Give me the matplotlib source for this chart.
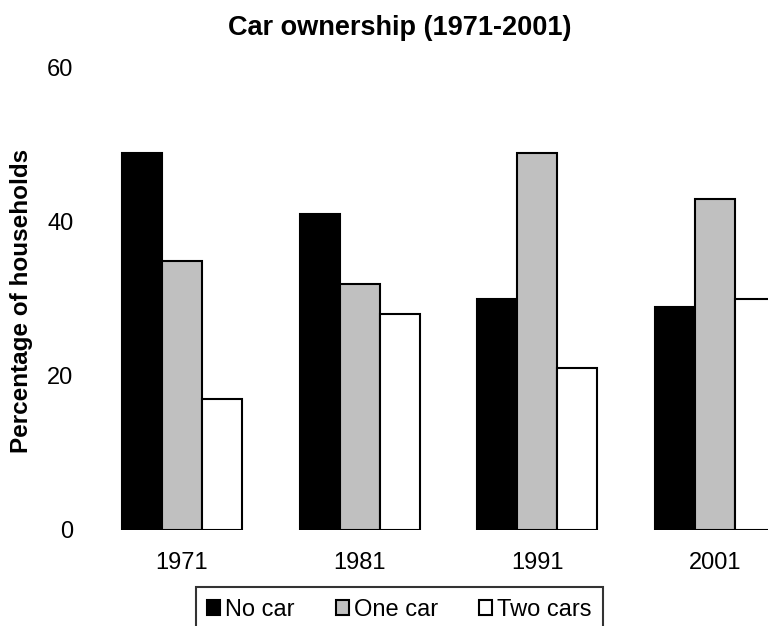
import numpy as np
import matplotlib.pyplot as plt

plt.rcParams['font.family'] = ['Liberation Sans', 'DejaVu Sans']

# data
years = ['1971', '1981', '1991', '2001']
no_car = [49, 41, 30, 29]
one_car = [35, 32, 49, 43]
two_cars = [17, 28, 21, 30]

fig = plt.figure(figsize=(7.68, 6.26), dpi=100)
ax = fig.add_axes([100 / 768, 96 / 626, 1 - 100 / 768, 462 / 626])

x = np.arange(len(years))
w = 0.225
ax.bar(x - w, no_car, w, color='black', edgecolor='black', linewidth=1.5, label='No car')
ax.bar(x, one_car, w, color='#c0c0c0', edgecolor='black', linewidth=1.5, label='One car')
ax.bar(x + w, two_cars, w, color='white', edgecolor='black', linewidth=1.5, label='Two cars')

ax.set_xlim(-0.462, 3.30)
ax.set_ylim(0, 60)
ax.set_yticks([0, 20, 40, 60])
ax.set_xticks(x)
ax.set_xticklabels(years)
ax.tick_params(length=0, labelsize=17)
ax.tick_params(axis='y', pad=19)
ax.tick_params(axis='x', pad=16)
for s in ax.spines.values():
    s.set_visible(False)

fig.text(22 / 768, 0.52, 'Percentage of households', rotation=90, ha='center',
         va='center', fontsize=17.5, fontweight='bold')
fig.text(0.52, 0.955, 'Car ownership (1971-2001)', ha='center', va='center',
         fontsize=19.5, fontweight='bold')

leg = fig.legend(loc='upper center', bbox_to_anchor=(0.52, 39 / 626), ncol=3,
                 fontsize=17, frameon=True, fancybox=False, handlelength=0.55,
                 handleheight=0.55, handletextpad=0.2, columnspacing=1.75,
                 borderpad=0.5, borderaxespad=0)
leg.get_frame().set_edgecolor('black')
leg.get_frame().set_linewidth(1.5)

fig.savefig('out.png', dpi=100)
